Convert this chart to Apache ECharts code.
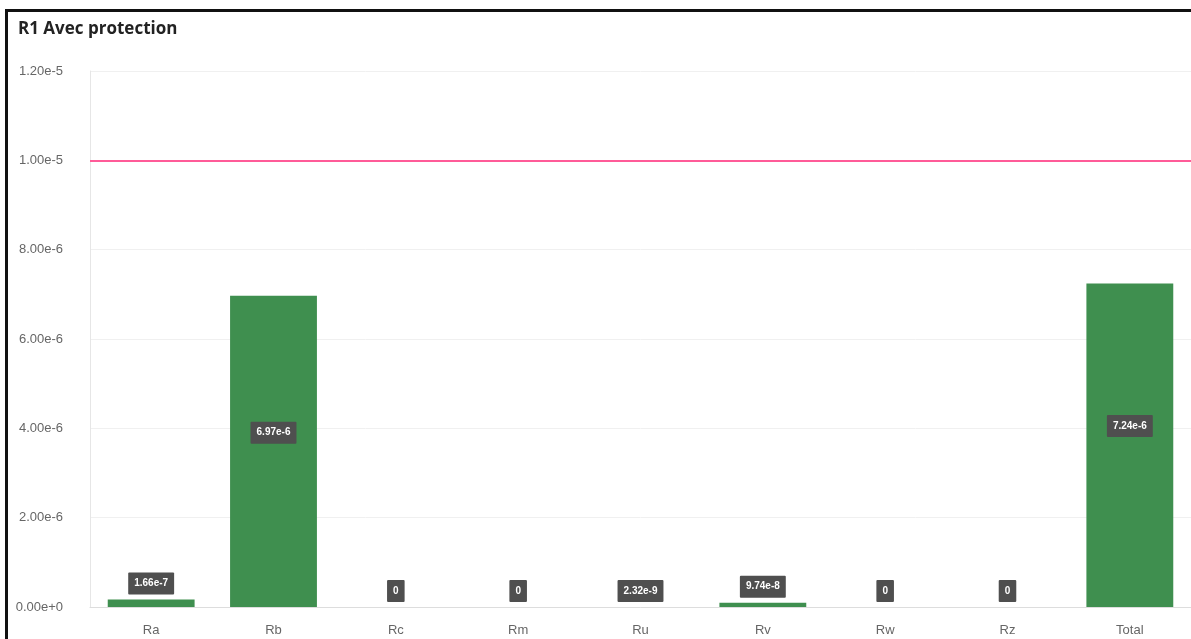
<!DOCTYPE html>
<html>
<head>
<meta charset="utf-8">
<script src="https://cdn.jsdelivr.net/npm/echarts@6/dist/echarts.min.js"></script>
<style>
  html, body { margin: 0; padding: 0; background: #fff; }
  #frame { position: absolute; left: 5px; top: 9px; width: 1200px; height: 640px;
           border-left: 3px solid #111; border-top: 3px solid #111; box-sizing: border-box; }
  #chart { position: absolute; left: 0; top: 0; width: 1191px; height: 639px; }
</style>
</head>
<body>
<div id="frame"></div>
<div id="chart"></div>
<script>
const titleText = 'R1 Avec protection';
const categories = ['Ra', 'Rb', 'Rc', 'Rm', 'Ru', 'Rv', 'Rw', 'Rz', 'Total'];
const values = [1.66e-7, 6.97e-6, 0, 0, 2.32e-9, 9.74e-8, 0, 0, 7.24e-6];
const labelTexts = ['1.66e-7', '6.97e-6', '0', '0', '2.32e-9', '9.74e-8', '0', '0', '7.24e-6'];
const thresholdValue = 1e-5;
const yMin = 0, yMax = 1.2e-5, yInterval = 2e-6;

const maxVal = Math.max.apply(null, values);
const barData = values.map((v, i) => {
  const big = v > maxVal * 0.1;
  return {
    value: v,
    label: big
      ? { position: ['50%', '44%'], align: 'center', verticalAlign: 'middle' }
      : { position: 'top', distance: 5 }
  };
});

const chart = echarts.init(document.getElementById('chart'));
chart.setOption({
  animation: false,
  title: {
    text: titleText, left: 13, top: 16,
    textStyle: { fontFamily: 'Open Sans', fontWeight: 'bold', fontSize: 17, color: '#222' }
  },
  grid: { left: 90, right: 0, top: 71, bottom: 32 },
  xAxis: {
    type: 'category', data: categories,
    axisLine: { show: true, lineStyle: { color: '#ddd' } },
    axisTick: { show: false },
    axisLabel: { color: '#666', fontSize: 13, margin: 17, fontFamily: 'Liberation Sans' },
    splitLine: { show: false }
  },
  yAxis: {
    type: 'value', min: yMin, max: yMax, interval: yInterval,
    axisLine: { show: true, lineStyle: { color: '#e6e6e6' } },
    axisTick: { show: false },
    axisLabel: { color: '#666', fontSize: 13, margin: 27, fontFamily: 'Liberation Sans',
      formatter: v => v.toExponential(2) },
    splitLine: { lineStyle: { color: '#f0f0f0' } }
  },
  series: [{
    type: 'bar', data: barData, barCategoryGap: '29%',
    itemStyle: { color: '#3f8f4f' },
    label: {
      show: true,
      formatter: p => labelTexts[p.dataIndex],
      color: '#fff', fontSize: 10, fontWeight: 'bold', fontFamily: 'Liberation Sans',
      backgroundColor: '#4f4f4f', padding: [6, 6], borderRadius: 1
    },
    markLine: {
      silent: true, symbol: 'none', precision: 12,
      label: { show: false },
      lineStyle: { color: '#ff5b98', width: 2, type: 'solid' },
      data: [{ yAxis: thresholdValue }]
    }
  }]
});
</script>
</body>
</html>
